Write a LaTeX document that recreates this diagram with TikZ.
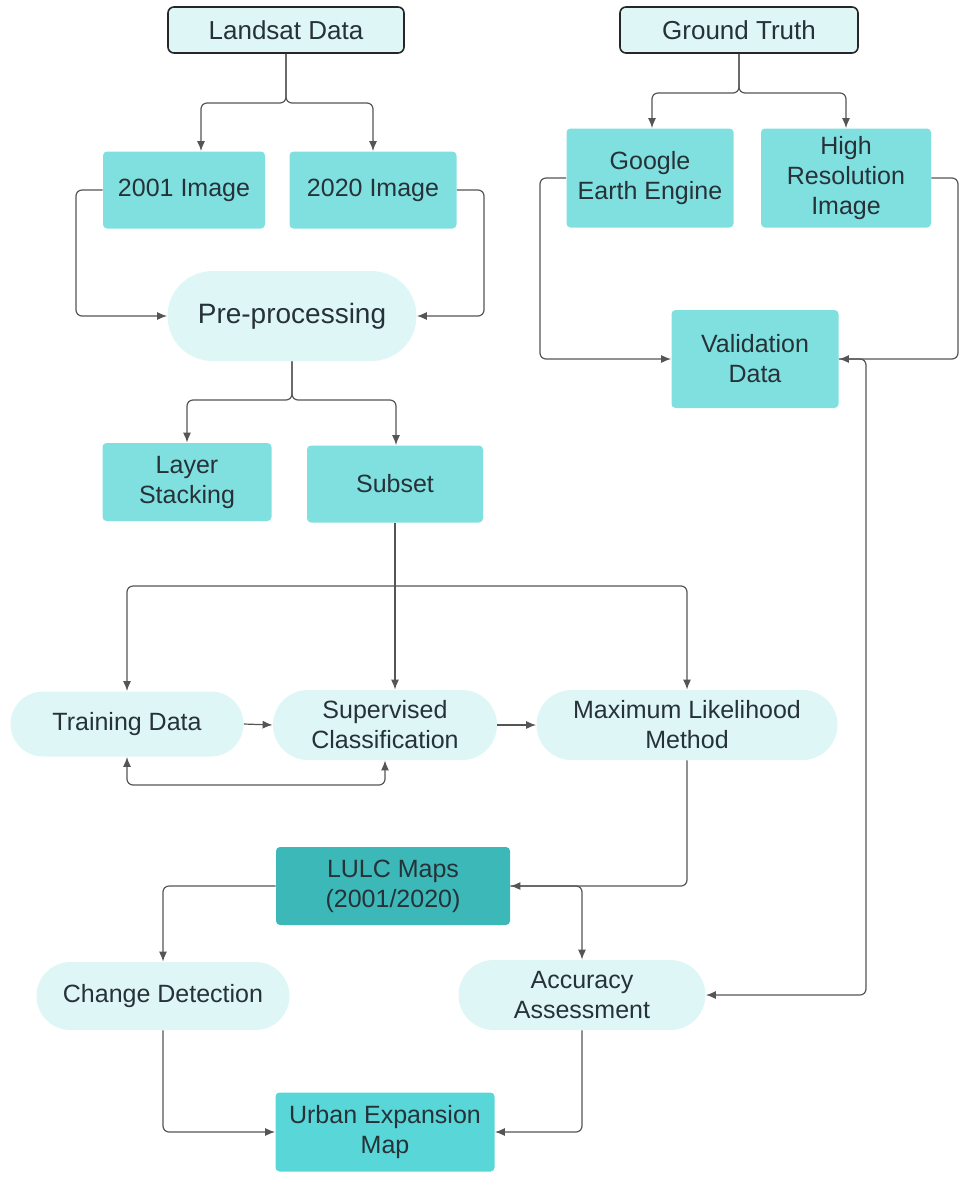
\documentclass[tikz,border=0pt]{standalone}
\usepackage{fontspec}
\setmainfont{Liberation Sans}
\usetikzlibrary{arrows.meta,shapes.misc}
\definecolor{boxc}{HTML}{80E0E0}
\definecolor{lightc}{HTML}{DFF6F6}
\definecolor{darkc}{HTML}{3DB8B8}
\definecolor{urbanc}{HTML}{58D6D8}
\definecolor{textc}{HTML}{263238}
\definecolor{linec}{HTML}{555555}
\tikzset{
	topbox/.style={draw=black!85, line width=0.8pt, fill=lightc, rounded corners=3pt, inner sep=0pt, text=textc, font=\fontsize{13}{15}\selectfont},
	databox/.style={fill=boxc, rounded corners=2pt, inner sep=0pt, align=center, text=textc, font=\fontsize{12.5}{15}\selectfont},
	pill/.style={rounded rectangle, fill=lightc, inner sep=0pt, align=center, text=textc, font=\fontsize{12.5}{15}\selectfont},
	conn/.style={draw=linec, line width=0.6pt, rounded corners=3pt, -{Latex[length=5pt,width=4pt]}},
}

\begin{document}
\begin{tikzpicture}[x=0.5pt, y=-0.5pt]
				\useasboundingbox (0,0) rectangle (960,1185);
				\node[topbox, minimum width=118pt, minimum height=23pt] (landsat) at (286,30) {Landsat Data};
				\node[topbox, minimum width=119pt, minimum height=23pt] (ground) at (739,30) {Ground Truth};
				\node[databox, minimum width=81pt, minimum height=38.5pt] (img01) at (184,190) {2001 Image};
				\node[databox, minimum width=83.5pt, minimum height=38.5pt] (img20) at (373,190) {2020 Image};
				\node[pill, minimum width=124.5pt, minimum height=45pt, font=\fontsize{14}{16}\selectfont] (prep) at (292,316) {Pre-processing};
				\node[databox, minimum width=84.5pt, minimum height=39pt] (stack) at (187,482) {Layer\\Stacking};
				\node[databox, minimum width=88pt, minimum height=38.5pt] (subset) at (395,484) {Subset};
				\node[pill, minimum width=116.5pt, minimum height=32.5pt] (train) at (127,724) {Training Data};
				\node[pill, minimum width=112pt, minimum height=35pt] (superv) at (385,725) {Supervised\\Classification};
				\node[pill, minimum width=150.5pt, minimum height=35pt] (mlm) at (687,725) {Maximum Likelihood\\Method};
				\node[databox, fill=darkc, minimum width=117pt, minimum height=39pt] (lulc) at (393,886) {LULC Maps\\(2001/2020)};
				\node[pill, minimum width=126.5pt, minimum height=34pt] (change) at (163,996) {Change Detection};
				\node[pill, minimum width=123.5pt, minimum height=35pt] (acc) at (582,995) {Accuracy\\Assessment};
				\node[databox, fill=urbanc, minimum width=109.5pt, minimum height=39.5pt] (urban) at (385,1132) {Urban Expansion\\Map};
				\node[databox, minimum width=83.5pt, minimum height=49.5pt] (gee) at (650,178) {Google\\Earth Engine};
				\node[databox, minimum width=85pt, minimum height=49.5pt] (hri) at (846,178) {High\\Resolution\\Image};
				\node[databox, minimum width=83.5pt, minimum height=49pt] (valid) at (755,359) {Validation\\Data};
				\draw[conn] (landsat.south) |- (201,103) -- (201,0 |- img01.north);
				\draw[conn] (landsat.south) |- (373,103) -- (373,0 |- img20.north);
				\draw[conn] (img01.west) -- (76,190) |- (prep.west);
				\draw[conn] (img20.east) -- (484,190) |- (prep.east);
				\draw[conn] (prep.south) |- (187,400) -- (stack.north);
				\draw[conn] (prep.south) |- (396,400) -- (396,0 |- subset.north);
				\draw[conn] (subset.south) -- (395,0 |- superv.north);
				\draw[conn] (395,586) -| (train.north);
				\draw[conn] (395,586) -| (mlm.north);
				\draw[conn] (train.east) -- (superv.west);
				\draw[conn, {Latex[length=5pt,width=4pt]}-{Latex[length=5pt,width=4pt]}] (train.south) -- (127,785) -| (superv.south);
				\draw[conn] (superv.east) -- (mlm.west);
				\draw[conn] (mlm.south) |- (lulc.east);
				\draw[conn] (lulc.east) -| (acc.north);
				\draw[conn] (lulc.west) -| (change.north);
				\draw[conn] (change.south) |- (urban.west);
				\draw[conn] (acc.south) |- (urban.east);
				\draw[conn] (ground.south) |- (652,93) -- (652,0 |- gee.north);
				\draw[conn] (ground.south) |- (846,93) -- (hri.north);
				\draw[conn] (gee.west) -- (540,178) |- (valid.west);
				\draw[conn] (hri.east) -- (958,178) |- (valid.east);
				\draw[conn] (valid.east) -| (866,0 |- acc.east) -- (acc.east);
				\end{tikzpicture}
\end{document}
